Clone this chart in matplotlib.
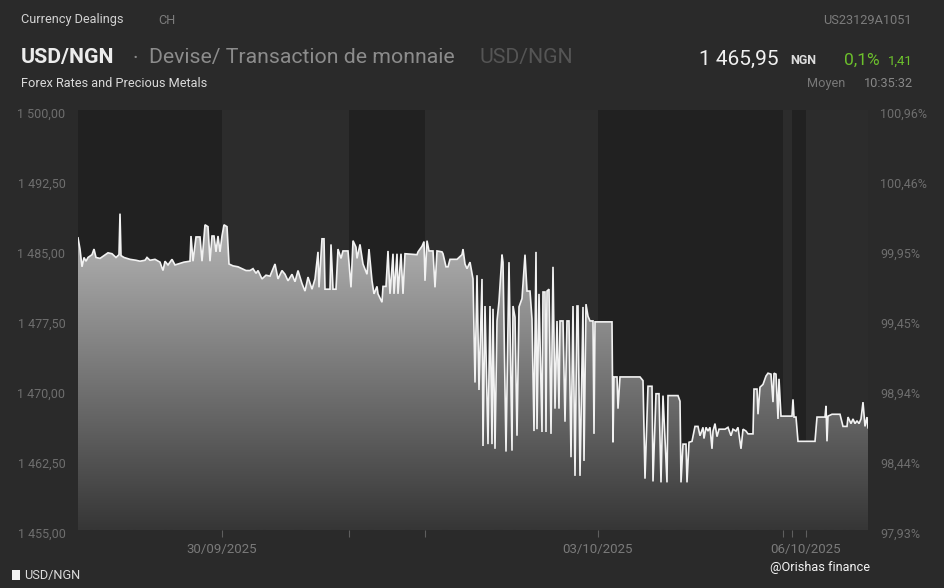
import numpy as np
import matplotlib
matplotlib.use("Agg")
import matplotlib.pyplot as plt
from matplotlib.colors import LinearSegmentedColormap
from matplotlib.patches import Rectangle
from matplotlib.transforms import ScaledTranslation

plt.rcParams["font.family"] = ["Roboto", "DejaVu Sans"]

# quote sequence number and USD/NGN mid rate
seq = [0, 2, 4, 6, 8, 10, 14, 16, 18, 22, 26, 30, 34, 38, 41, 42, 43, 46, 52, 58,
       62, 67, 69, 72, 77, 82, 85, 87, 90, 94, 97, 100, 106, 112, 113, 115, 118, 122, 124, 127,
       130, 132, 134, 136, 138, 140, 142, 144, 146, 149, 151, 155, 160, 164, 168, 172, 175, 178, 180, 184,
       188, 192, 197, 200, 204, 207, 210, 214, 217, 220, 224, 227, 230, 234, 237, 240, 241, 244, 246, 247,
       252, 253, 255, 258, 260, 263, 265, 270, 273, 275, 278, 279, 282, 285, 289, 291, 294, 296, 299, 300,
       304, 305, 308, 310, 312, 315, 316, 319, 320, 323, 325, 327, 339, 340, 344, 346, 347, 349, 351, 355,
       357, 359, 364, 365, 368, 370, 372, 379, 384, 385, 387, 389, 392, 395, 397, 399, 401, 404, 405, 407,
       410, 412, 414, 415, 417, 419, 421, 424, 425, 428, 431, 434, 435, 437, 439, 441, 444, 447, 449, 452,
       454, 456, 458, 459, 461, 464, 465, 467, 468, 469, 471, 473, 475, 477, 479, 481, 482, 485, 487, 489,
       491, 493, 495, 497, 499, 500, 502, 505, 506, 508, 510, 512, 515, 516, 517, 534, 535, 536, 539, 540,
       542, 562, 565, 567, 570, 574, 575, 578, 581, 583, 585, 589, 590, 600, 602, 603, 605, 608, 609, 611,
       614, 617, 620, 622, 625, 626, 628, 630, 632, 634, 635, 637, 639, 641, 647, 650, 653, 655, 658, 660,
       663, 665, 668, 670, 675, 676, 679, 680, 682, 685, 688, 690, 693, 695, 696, 698, 700, 701, 703, 714,
       715, 716, 718, 720, 737, 739, 747, 748, 749, 750, 754, 762, 765, 769, 770, 773, 775, 777, 779, 781,
       783, 785, 787, 789, 790]
rate = [1486.3, 1485.1, 1483.2, 1484.2, 1483.8, 1484.2, 1484.5, 1485.1, 1484.2, 1484.1,
        1484.4, 1484.7, 1484.6, 1484.2, 1484.5, 1488.9, 1484.4, 1484.2, 1484.0, 1483.9,
        1483.8, 1483.9, 1484.2, 1483.9, 1484.0, 1483.7, 1482.8, 1483.8, 1483.4, 1484.0,
        1483.4, 1483.5, 1483.7, 1483.8, 1486.5, 1483.8, 1486.4, 1486.4, 1483.8, 1487.7,
        1487.5, 1483.8, 1486.5, 1486.5, 1484.8, 1486.5, 1484.8, 1486.5, 1487.7, 1487.5,
        1483.5, 1483.3, 1483.2, 1483.0, 1482.8, 1482.8, 1483.0, 1482.5, 1482.8, 1481.9,
        1482.3, 1482.2, 1483.5, 1481.9, 1482.8, 1482.4, 1481.7, 1482.4, 1481.6, 1482.8,
        1481.4, 1480.6, 1482.1, 1480.8, 1481.9, 1484.8, 1481.0, 1486.2, 1486.2, 1480.8,
        1480.8, 1485.6, 1480.8, 1480.8, 1485.1, 1484.1, 1484.9, 1484.9, 1481.0, 1486.0,
        1485.3, 1484.1, 1485.6, 1483.5, 1482.4, 1485.1, 1481.7, 1480.3, 1481.1, 1480.3,
        1479.4, 1481.1, 1481.1, 1484.9, 1480.3, 1484.6, 1480.3, 1484.6, 1480.3, 1484.6,
        1480.3, 1484.6, 1484.5, 1484.8, 1485.4, 1485.9, 1481.7, 1486.0, 1484.9, 1484.9,
        1481.0, 1484.9, 1484.8, 1484.6, 1483.2, 1483.2, 1484.0, 1484.0, 1484.5, 1485.1,
        1483.5, 1483.0, 1483.7, 1481.9, 1470.8, 1482.3, 1470.0, 1481.9, 1464.0, 1479.0,
        1464.2, 1479.0, 1464.2, 1478.7, 1463.7, 1477.4, 1479.5, 1484.5, 1483.7, 1463.4,
        1483.7, 1463.5, 1479.0, 1477.8, 1465.1, 1478.9, 1479.8, 1484.5, 1480.6, 1480.6,
        1477.6, 1465.6, 1484.8, 1465.8, 1480.3, 1465.5, 1480.5, 1480.5, 1465.5, 1480.6,
        1480.8, 1465.3, 1483.2, 1468.0, 1477.4, 1468.0, 1477.4, 1477.4, 1466.6, 1477.4,
        1477.4, 1462.8, 1479.0, 1460.8, 1479.0, 1479.0, 1460.8, 1478.9, 1462.4, 1479.2,
        1477.9, 1477.4, 1477.4, 1465.3, 1477.3, 1477.3, 1464.4, 1471.4, 1471.4, 1468.0,
        1471.4, 1471.4, 1471.0, 1460.5, 1470.4, 1470.4, 1460.2, 1469.6, 1469.6, 1460.1,
        1469.4, 1460.1, 1469.4, 1469.4, 1468.8, 1460.1, 1464.2, 1464.2, 1460.1, 1464.4,
        1464.5, 1466.1, 1466.1, 1465.1, 1466.0, 1464.8, 1466.0, 1465.6, 1466.0, 1463.7,
        1465.6, 1466.4, 1465.0, 1465.8, 1465.8, 1466.0, 1465.1, 1465.8, 1465.6, 1466.0,
        1463.7, 1465.8, 1465.6, 1465.3, 1465.3, 1470.1, 1470.1, 1467.4, 1470.3, 1470.6,
        1471.5, 1471.8, 1471.7, 1468.7, 1471.8, 1471.7, 1466.9, 1471.2, 1467.2, 1467.2,
        1469.0, 1467.1, 1467.1, 1464.5, 1464.5, 1467.1, 1467.1, 1468.3, 1464.5, 1467.2,
        1467.4, 1467.4, 1466.1, 1466.1, 1467.1, 1466.4, 1466.9, 1466.4, 1466.7, 1466.4,
        1466.9, 1468.7, 1466.1, 1467.1, 1465.95]

# trading sessions (start sequence numbers), last entry closes the range
session_bounds = [0, 144, 271, 347, 520, 705, 714, 728, 790]
date_labels = {144: "30/09/2025", 520: "03/10/2025", 728: "06/10/2025"}
y_ticks = [1455.0, 1462.5, 1470.0, 1477.5, 1485.0, 1492.5, 1500.0]
base_rate = 1485.7

BG = "#2a2a2a"
W, H = 945, 588

fig = plt.figure(figsize=(W / 100, H / 100), dpi=100, facecolor=BG)
ax = fig.add_axes([78 / W, 1 - 530 / H, 790 / W, 420 / H])
ax.set_facecolor(BG)

# alternating session bands
for i in range(len(session_bounds) - 1):
    col = "#212121" if i % 2 == 0 else "#2c2c2c"
    ax.axvspan(session_bounds[i], session_bounds[i + 1], color=col, lw=0, zorder=0)

ax.set_xlim(session_bounds[0], session_bounds[-1])
ax.set_ylim(y_ticks[0], y_ticks[-1])

# gradient area under the rate line
cmap = LinearSegmentedColormap.from_list("area", ["#363636", "#e4e4e4"])
area = ax.fill_between(seq, rate, y_ticks[0], color="none", lw=0)
grad = np.linspace(0, 1, 256).reshape(-1, 1)
im = ax.imshow(grad, extent=[seq[0], seq[-1], y_ticks[0], y_ticks[-1]],
               origin="lower", cmap=cmap, aspect="auto", zorder=2,
               interpolation="bilinear")
im.set_clip_path(area.get_paths()[0], transform=ax.transData)

ax.plot(seq, rate, color="#f2f2f2", lw=1.2, zorder=3, solid_joinstyle="miter")

for s in ax.spines.values():
    s.set_visible(False)


def fmt_num(v):
    return f"{v:,.2f}".replace(",", " ").replace(".", ",")


label_shift = ScaledTranslation(0, -3 / 100, fig.dpi_scale_trans)

ax.set_yticks(y_ticks)
ax.set_yticklabels([fmt_num(v) for v in y_ticks])
ax.tick_params(axis="y", length=0, pad=9, labelsize=9, labelcolor="#6e6e6e")
for lab in ax.get_yticklabels():
    lab.set_transform(lab.get_transform() + label_shift)

ax2 = ax.twinx()
ax2.set_ylim(ax.get_ylim())
ax2.set_yticks(y_ticks)
ax2.set_yticklabels([f"{v / base_rate * 100:.2f}%".replace(".", ",") for v in y_ticks])
ax2.tick_params(axis="y", length=0, pad=9, labelsize=9, labelcolor="#6e6e6e")
for lab in ax2.get_yticklabels():
    lab.set_transform(lab.get_transform() + label_shift)
for s in ax2.spines.values():
    s.set_visible(False)

inner = session_bounds[1:-1]
ax.set_xticks(inner)
ax.set_xticklabels([date_labels.get(b, "") for b in inner])
ax.tick_params(axis="x", length=5, width=0.8, color="#5e5e5e", pad=4,
               labelsize=9.5, labelcolor="#7a7a7a", direction="out")


def px(x, y):
    return x / W, 1 - y / H


# header
fig.text(*px(21, 20), "Currency Dealings", color="#d2d2d2", fontsize=9.2, va="center")
fig.text(*px(158, 20), "CH", color="#7c7c7c", fontsize=9.2, va="center")
fig.text(*px(912, 20), "US23129A1051", color="#7c7c7c", fontsize=9.2, va="center", ha="right")

fig.text(*px(21, 58), "USD/NGN", color="#ececec", fontsize=15.3, fontweight="bold", va="center")
fig.text(*px(133, 58), "·", color="#8c8c8c", fontsize=15.3, va="center")
fig.text(*px(149, 58), "Devise/ Transaction de monnaie", color="#8c8c8c", fontsize=15.3, va="center")
fig.text(*px(480, 58), "USD/NGN", color="#555555", fontsize=15.3, va="center")

fig.text(*px(779, 59), fmt_num(rate[-1]), color="#f0f0f0", fontsize=15, va="center", ha="right")
fig.text(*px(790, 61), "NGN", color="#dcdcdc", fontsize=9, fontweight="bold", va="center")
fig.text(*px(844, 60), "0,1%", color="#6cc02c", fontsize=12.5, va="center")
fig.text(*px(913, 61), "1,41", color="#6cc02c", fontsize=9.5, va="center", ha="right")

fig.text(*px(21, 84), "Forex Rates and Precious Metals", color="#dadada", fontsize=9.2, va="center")
fig.text(*px(807, 84), "Moyen", color="#787878", fontsize=9.2, va="center")
fig.text(*px(913, 84), "10:35:32", color="#888888", fontsize=9.2, va="center", ha="right")

# footer legend and credit
fig.patches.append(Rectangle(px(12, 580), 8 / W, 10 / H, transform=fig.transFigure,
                             facecolor="#f4f4f4", edgecolor="none"))
fig.text(*px(24, 576), "USD/NGN", color="#dcdcdc", fontsize=9.2, va="center")
fig.text(*px(770, 568), "@Orishas finance", color="#f4f4f4", fontsize=9.2, va="center")

fig.savefig("out.png", dpi=100, facecolor=BG)
